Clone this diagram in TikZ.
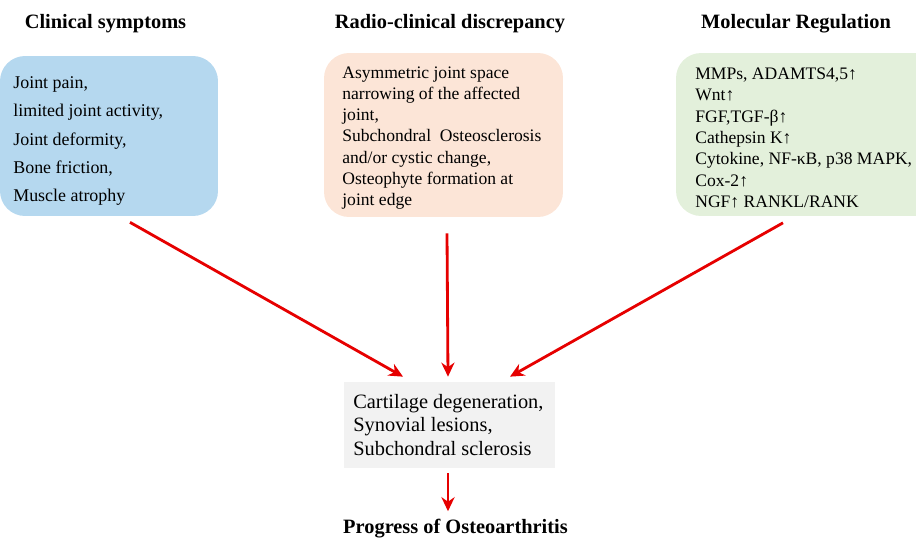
\documentclass[tikz,border=0pt]{standalone}
\usepackage{fontspec}
\setmainfont{Liberation Serif}
\usetikzlibrary{calc,arrows.meta}

\definecolor{boxblue}{RGB}{181,216,239}
\definecolor{boxorange}{RGB}{252,229,215}
\definecolor{boxgreen}{RGB}{227,240,219}
\definecolor{boxgray}{RGB}{242,242,242}
\definecolor{arrred}{RGB}{230,0,0}

\begin{document}
\begin{tikzpicture}[x=0.02cm,y=-0.02cm,
  title/.style={font=\fontsize{11.6}{14}\selectfont\bfseries, inner sep=0pt},
  card/.style={rounded corners=0.5cm, inner sep=0pt},
  txt/.style={anchor=west, align=left, inner sep=0pt},
  arr/.style={draw=arrred, line width=1.6pt, -{Stealth[length=8pt,width=7.5pt]}}]

  \clip (0,0) rectangle (916,538);

  % Titles
  \node[title] (tclin) at (105.5,24)  {Clinical symptoms};
  \node[title] (trad)  at (450,24)    {Radio-clinical discrepancy};
  \node[title] (tmol)  at (796,24)    {Molecular Regulation};
  \node[title] (prog)  at (455.5,529) {Progress of Osteoarthritis};

  % Boxes
  \node[card, fill=boxblue,   minimum width=4.36cm, minimum height=3.2cm]  (clin) at (109,136)   {};
  \node[card, fill=boxorange, minimum width=4.78cm, minimum height=3.28cm] (rad)  at (443.5,135) {};
  \node[card, fill=boxgreen,  minimum width=5.28cm, minimum height=3.26cm] (mol)  at (808,134.5) {};
  \node[fill=boxgray, inner sep=0pt, minimum width=4.22cm, minimum height=1.72cm] (oa) at (449.5,425) {};

  % Texts
  \node[txt, font=\fontsize{10.2}{16.2}\selectfont] (clintxt) at (13,141)
    {Joint pain,\\ limited joint activity,\\ Joint deformity,\\ Bone friction,\\ Muscle atrophy};
  \node[txt, font=\fontsize{10}{12.1}\selectfont] (radtxt) at (342,138)
    {Asymmetric joint space\\ narrowing of the affected\\ joint,\\ Subchondral\ \ Osteosclerosis\\ and/or cystic change,\\ Osteophyte formation at\\ joint edge};
  \node[txt, font=\fontsize{10}{12.2}\selectfont] (moltxt) at (695,138)
    {MMPs, ADAMTS4,5↑\\ Wnt↑\\ FGF,TGF-β↑\\ Cathepsin K↑\\ Cytokine, NF-κB, p38 MAPK,\\ Cox-2↑\\ NGF↑ RANKL/RANK};
  \node[txt, font=\fontsize{11.6}{13.3}\selectfont] (oatxt) at (353,425)
    {Cartilage degeneration,\\ Synovial lesions,\\ Subchondral sclerosis};

  % Arrows
  \draw[arr] ($(clin.south)+(21,6)$) -- ($(oa.north)+(-46.5,-5)$);
  \draw[arr] ($(rad.south)+(3.5,16)$) -- ($(oa.north)+(-1.5,-5)$);
  \draw[arr] ($(mol.south)+(-25,6.5)$) -- ($(oa.north)+(60.5,-5)$);
  \draw[arr] ($(oa.south)+(-1.5,5)$) -- ($(prog.north)+(-7.5,-8)$);

\end{tikzpicture}
\end{document}
